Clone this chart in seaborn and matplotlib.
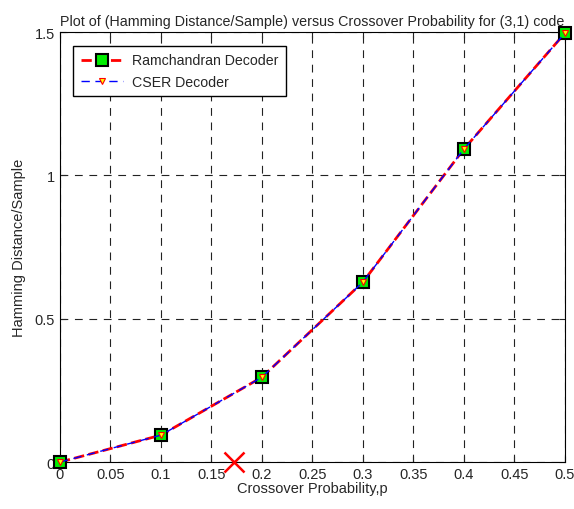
import pandas as pd
import matplotlib
matplotlib.use("Agg")
import matplotlib.pyplot as plt
import seaborn as sns

# data
p = [0.0, 0.1, 0.2, 0.3, 0.4, 0.5]
ramchandran = [0.0, 0.094, 0.296, 0.628, 1.092, 1.496]
cser = [0.0, 0.094, 0.296, 0.628, 1.092, 1.496]
cross_x = [0.172]
cross_y = [0.0]

sns.set_style("ticks")
plt.rcParams['font.family'] = ['Liberation Sans', 'DejaVu Sans']
plt.rcParams['font.size'] = 10

df = pd.DataFrame({'p': p, 'Ramchandran': ramchandran, 'CSER': cser})

fig = plt.figure(figsize=(5.74, 5.10), dpi=100)
ax = fig.add_axes([0.1045, 0.092, 0.8795, 0.843])

sns.lineplot(data=df, x='p', y='Ramchandran', ax=ax, color='red', linestyle='--',
             linewidth=2, marker='s', markersize=9, markerfacecolor='#00ee00',
             markeredgecolor='black', markeredgewidth=1.5,
             label='Ramchandran Decoder', clip_on=False, zorder=3)
sns.lineplot(data=df, x='p', y='CSER', ax=ax, color='blue', linestyle=(0, (6, 4)),
             linewidth=1, marker='v', markersize=5, markerfacecolor='yellow',
             markeredgecolor='red', markeredgewidth=0.8,
             label='CSER Decoder', clip_on=False, zorder=4)
ax.plot(cross_x, cross_y, 'x', color='red', markersize=14, markeredgewidth=1.8,
        clip_on=False, zorder=5)

ax.set_xlim(0, 0.5)
ax.set_ylim(0, 1.5)
ax.set_xticks([0, 0.05, 0.1, 0.15, 0.2, 0.25, 0.3, 0.35, 0.4, 0.45, 0.5])
ax.set_xticklabels(['0', '0.05', '0.1', '0.15', '0.2', '0.25', '0.3', '0.35', '0.4', '0.45', '0.5'])
ax.set_yticks([0, 0.5, 1, 1.5])
ax.set_yticklabels(['0', '0.5', '1', '1.5'])
ax.tick_params(direction='in', top=True, right=True, length=4, width=0.8, labelsize=10.5)
ax.grid(True, color='#222222', linestyle=(0, (7, 6)), linewidth=0.8)
for s in ax.spines.values():
    s.set_linewidth(0.8)
    s.set_color('black')

ax.set_xlabel('Crossover Probability,p', fontsize=10.5, labelpad=0)
ax.set_ylabel('Hamming Distance/Sample', fontsize=10.5, labelpad=6)
ax.set_title('Plot of (Hamming Distance/Sample) versus Crossover Probability for (3,1) code',
             fontsize=10.3, pad=5)

leg = ax.legend(loc='upper left', fontsize=10.2, frameon=True, fancybox=False,
                edgecolor='black', framealpha=1, handlelength=3.0, borderpad=0.55,
                handletextpad=0.6, bbox_to_anchor=(0.012, 0.985))
leg.get_frame().set_linewidth(1)

fig.savefig('out.png', dpi=100)
